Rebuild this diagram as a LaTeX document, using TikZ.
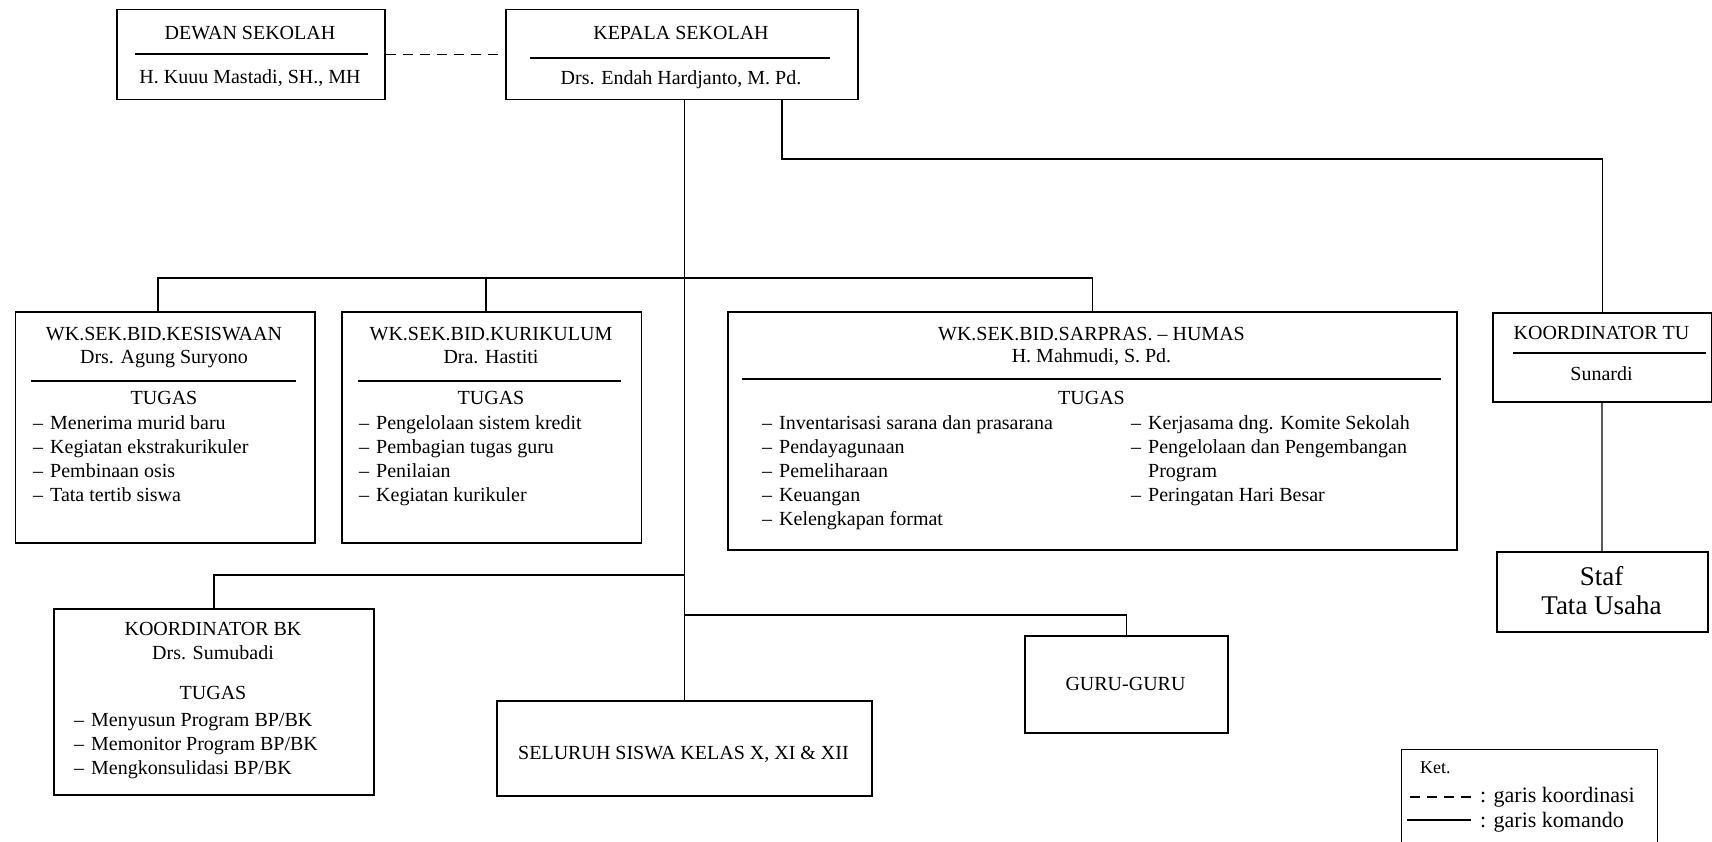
\documentclass[tikz,border=0pt]{standalone}
\usepackage{fontspec}
\setmainfont{Liberation Serif}
\usetikzlibrary{calc}
\newcommand\itm[1]{\strut\makebox[17pt][l]{--}#1}
\begin{document}
\begin{tikzpicture}[x=1pt,y=-1pt,
  box/.style={draw,line width=1.5pt,inner sep=0pt,anchor=north west},
  txt/.style={inner sep=0pt,anchor=base,font=\fontsize{20}{24}\selectfont},
  lst/.style={inner sep=0pt,anchor=north west,align=left,font=\fontsize{20}{24}\selectfont},
  conn/.style={line width=1.5pt},
  coordline/.style={line width=1.5pt,dash pattern=on 10pt off 7pt},
  sepline/.style={line width=1.5pt}]
\useasboundingbox (0,0) rectangle (1712,842);
\clip (0,0) rectangle (1712,842);
\fill[white] (0,0) rectangle (1712,842);

% boxes
\node[box,minimum width=268pt,minimum height=90pt] (dewan) at (116,9) {};
\node[box,minimum width=352pt,minimum height=90pt] (kepala) at (505,9) {};
\node[box,minimum width=299.5pt,minimum height=231pt] (kesis) at (14.5,311) {};
\node[box,minimum width=299.5pt,minimum height=231pt] (kurik) at (341,311) {};
\node[box,minimum width=729pt,minimum height=238pt] (sarpr) at (727,311) {};
\node[box,minimum width=219pt,minimum height=89pt] (kordtu) at (1492,312) {};
\node[box,minimum width=211pt,minimum height=80pt] (staf) at (1496,551) {};
\node[box,minimum width=320pt,minimum height=186pt] (bk) at (53,608) {};
\node[box,minimum width=203pt,minimum height=97pt] (guru) at (1024,635) {};
\node[box,minimum width=375pt,minimum height=95pt] (seluruh) at (496,700) {};
\node[box,line width=1.2pt,minimum width=256pt,minimum height=120pt] (legend) at (1401,749) {};

% connectors
\draw[coordline] (dewan.east) -- (kepala.west);
\coordinate (kA) at (kepala.south -| seluruh.north);
\coordinate (kB) at (782,99);
\coordinate (kC) at (782,159);
\coordinate (bus) at (684,278);
\coordinate (d1) at (158,311);
\coordinate (d2) at (486,311);
\coordinate (bkj) at (684,575);
\coordinate (gj) at (684,615);
\draw[conn] (kA) -- (seluruh.north);
\draw[conn] (kB) -- (kC) -| (kordtu.north);
\draw[conn] (d1) |- (bus) -| (sarpr.north);
\draw[conn] (d2) -- (d2 |- bus);
\draw[conn] (bkj) -| (bk.north);
\draw[conn] (gj) -| (guru.north);
\draw[line width=2.2pt,black!65] (kordtu.south) -- (staf.north);

% separator lines inside boxes
\draw[sepline] (135,54) -- (368,54);
\draw[sepline] (530,58) -- (830,58);
\draw[sepline] (31,381) -- (296,381);
\draw[sepline] (358,381) -- (621,381);
\draw[sepline] (742,379) -- (1441,379);
\draw[sepline] (1513,353) -- (1706,353);

% texts
\node[txt] (dewant) at (250,40) {DEWAN SEKOLAH};
\node[txt] (dewann) at (250,84) {H. Kuuu Mastadi, SH., MH};
\node[txt] (kepalat) at (681,40) {KEPALA SEKOLAH};
\node[txt] (kepalan) at (681,85) {Drs. Endah Hardjanto, M. Pd.};

\node[txt] (kesist) at (164,340) {WK.SEK.BID.KESISWAAN};
\node[txt] (kesisn) at (164,363) {Drs. Agung Suryono};
\node[txt] (kesisg) at (164,404) {TUGAS};
\node[lst] (kesisl) at (33,412.2) {\itm{Menerima murid baru}\\\itm{Kegiatan ekstrakurikuler}\\\itm{Pembinaan osis}\\\itm{Tata tertib siswa}};

\node[txt] (kurikt) at (491,340) {WK.SEK.BID.KURIKULUM};
\node[txt] (kurikn) at (491,363) {Dra. Hastiti};
\node[txt] (kurikg) at (491,404) {TUGAS};
\node[lst] (kurikl) at (359,412.2) {\itm{Pengelolaan sistem kredit}\\\itm{Pembagian tugas guru}\\\itm{Penilaian}\\\itm{Kegiatan kurikuler}};

\node[txt] (sarprt) at (1091.5,340) {WK.SEK.BID.SARPRAS. -- HUMAS};
\node[txt] (sarprn) at (1091.5,362) {H. Mahmudi, S. Pd.};
\node[txt] (sarprg) at (1091.5,404) {TUGAS};
\node[lst] (sarprl) at (762,412.2) {\itm{Inventarisasi sarana dan prasarana}\\\itm{Pendayagunaan}\\\itm{Pemeliharaan}\\\itm{Keuangan}\\\itm{Kelengkapan format}};
\node[lst] (sarprr) at (1131,412.2) {\itm{Kerjasama dng. Komite Sekolah}\\\itm{Pengelolaan dan Pengembangan}\\\strut\hspace*{17pt}Program\\\itm{Peringatan Hari Besar}};

\node[txt] (kordtut) at (1601.5,339) {KOORDINATOR TU};
\node[txt] (kordtun) at (1601.5,380) {Sunardi};
\node[txt,font=\fontsize{27}{32}\selectfont] (stafa) at (1601.5,585) {Staf};
\node[txt,font=\fontsize{27}{32}\selectfont] (stafb) at (1601.5,614) {Tata Usaha};

\node[txt] (bkt) at (213,635) {KOORDINATOR BK};
\node[txt] (bkn) at (213,659) {Drs. Sumubadi};
\node[txt] (bkg) at (213,699) {TUGAS};
\node[lst] (bkl) at (74,709.2) {\itm{Menyusun Program BP/BK}\\\itm{Memonitor Program BP/BK}\\\itm{Mengkonsulidasi BP/BK}};

\node[txt] (seluruht) at (683.5,759) {SELURUH SISWA KELAS X, XI \& XII};
\node[txt] (gurut) at (1125.5,690) {GURU-GURU};

% legend
\node[txt,anchor=base west,font=\fontsize{18}{22}\selectfont] (ket) at (1420,773) {Ket.};
\coordinate (l1a) at (1410,797);
\coordinate (l1b) at (1471,797);
\coordinate (l2a) at (1407,820);
\coordinate (l2b) at (1471,820);
\draw[line width=1.3pt,dash pattern=on 10pt off 7pt] (l1a) -- (l1b);
\draw[line width=1.3pt] (l2a) -- (l2b);
\node[txt,anchor=base west,font=\fontsize{22}{26}\selectfont] (leg1) at (1480,802) {: garis koordinasi};
\node[txt,anchor=base west,font=\fontsize{22}{26}\selectfont] (leg2) at (1480,827) {: garis komando};
\end{tikzpicture}
\end{document}
